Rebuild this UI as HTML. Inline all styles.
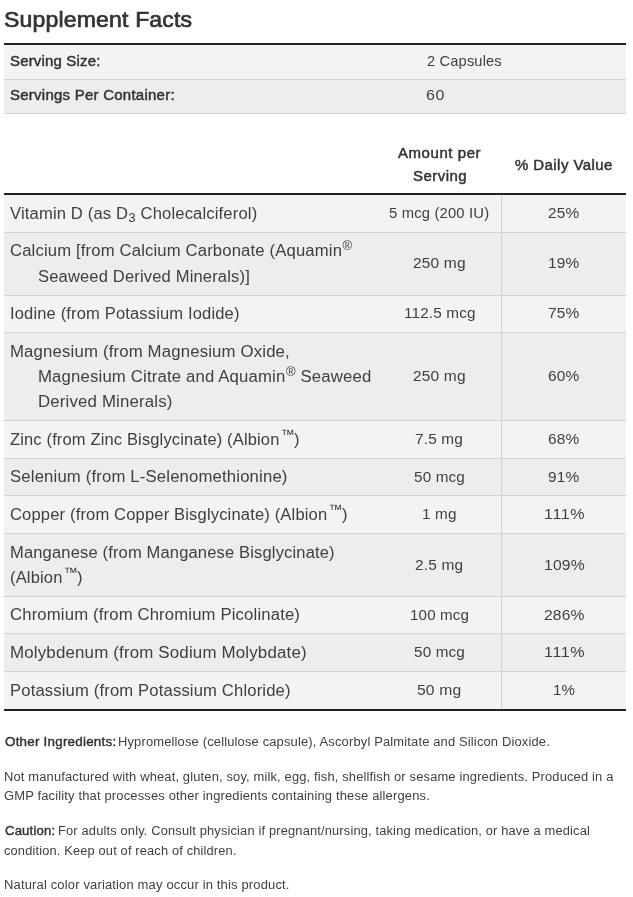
<!DOCTYPE html>
<html><head><meta charset="utf-8"><title>Supplement Facts</title><style>
html,body{margin:0;padding:0;background:#fff;}
body{width:633px;height:897px;position:relative;overflow:hidden;font-family:"Liberation Sans", sans-serif;color:#404040;}
h2,p{margin:0;font-weight:400;}
.b{position:absolute;}
.tx{position:absolute;left:0;top:0;width:633px;height:897px;will-change:transform;}
.t{position:absolute;white-space:nowrap;line-height:20px;height:20px;transform-origin:0 0;}
.h{color:#333;-webkit-text-stroke:0.7px #333;}
.sb6{color:#333;-webkit-text-stroke:0.45px #333;}
.sb5{color:#333;-webkit-text-stroke:0.4px #333;}
.sb{font-size:80%;position:relative;top:3px;line-height:0;}
.sp{font-size:78%;position:relative;top:-5.3px;line-height:0;margin-left:0.5px;}
.sp.tm{font-size:84%;top:-5.5px;margin-left:1.5px;margin-right:-1px;}
</style></head><body>
<div class="b" style="left:4px;top:43px;width:622px;height:2px;background:#222"></div>
<div class="b" style="left:4px;top:45px;width:622px;height:34px;background:#f3f3f3"></div>
<div class="b" style="left:4px;top:79px;width:622px;height:1px;background:#d3d3d3"></div>
<div class="b" style="left:4px;top:80px;width:622px;height:33px;background:#ededed"></div>
<div class="b" style="left:4px;top:113px;width:622px;height:1px;background:#d3d3d3"></div>
<div class="b" style="left:4px;top:193px;width:622px;height:2px;background:#222"></div>
<div class="b" style="left:4px;top:195px;width:622px;height:37px;background:#f3f3f3"></div>
<div class="b" style="left:4px;top:232px;width:622px;height:1px;background:#d3d3d3"></div>
<div class="b" style="left:4px;top:233px;width:622px;height:62px;background:#ededed"></div>
<div class="b" style="left:4px;top:295px;width:622px;height:1px;background:#d3d3d3"></div>
<div class="b" style="left:4px;top:296px;width:622px;height:36px;background:#f3f3f3"></div>
<div class="b" style="left:4px;top:332px;width:622px;height:1px;background:#d3d3d3"></div>
<div class="b" style="left:4px;top:333px;width:622px;height:87px;background:#ededed"></div>
<div class="b" style="left:4px;top:420px;width:622px;height:1px;background:#d3d3d3"></div>
<div class="b" style="left:4px;top:421px;width:622px;height:37px;background:#f3f3f3"></div>
<div class="b" style="left:4px;top:458px;width:622px;height:1px;background:#d3d3d3"></div>
<div class="b" style="left:4px;top:459px;width:622px;height:36px;background:#ededed"></div>
<div class="b" style="left:4px;top:495px;width:622px;height:1px;background:#d3d3d3"></div>
<div class="b" style="left:4px;top:496px;width:622px;height:37px;background:#f3f3f3"></div>
<div class="b" style="left:4px;top:533px;width:622px;height:1px;background:#d3d3d3"></div>
<div class="b" style="left:4px;top:534px;width:622px;height:62px;background:#ededed"></div>
<div class="b" style="left:4px;top:596px;width:622px;height:1px;background:#d3d3d3"></div>
<div class="b" style="left:4px;top:597px;width:622px;height:36px;background:#f3f3f3"></div>
<div class="b" style="left:4px;top:633px;width:622px;height:1px;background:#d3d3d3"></div>
<div class="b" style="left:4px;top:634px;width:622px;height:37px;background:#ededed"></div>
<div class="b" style="left:4px;top:671px;width:622px;height:1px;background:#d3d3d3"></div>
<div class="b" style="left:4px;top:672px;width:622px;height:37px;background:#f3f3f3"></div>
<div class="b" style="left:4px;top:709px;width:622px;height:2px;background:#222"></div>
<div class="b" style="left:501px;top:195px;width:1px;height:514px;background:#d3d3d3"></div>
<div class="tx">
<h2 class="t h" style="left:4.22px;top:9.50px;font-size:22.4px;letter-spacing:0.150px;transform:scaleX(1.0296);">Supplement Facts</h2>
<div class="t sb6" style="left:10.30px;top:51.00px;font-size:14.0px;letter-spacing:0.159px;transform:scaleX(1.0700);">Serving Size:</div>
<div class="t sb6" style="left:10.08px;top:85.00px;font-size:14.0px;letter-spacing:0.236px;transform:scaleX(1.0700);">Servings Per Container:</div>
<div class="t" style="left:426.52px;top:50.50px;font-size:15.0px;letter-spacing:0.150px;transform:scaleX(0.9779);">2 Capsules</div>
<div class="t" style="left:426.20px;top:84.50px;font-size:15.0px;letter-spacing:0.447px;transform:scaleX(1.0700);">60</div>
<div class="t sb6" style="left:398.38px;top:143.00px;font-size:14.0px;letter-spacing:0.528px;transform:scaleX(1.0700);">Amount per</div>
<div class="t sb6" style="left:412.72px;top:166.00px;font-size:14.0px;letter-spacing:0.447px;transform:scaleX(1.0700);">Serving</div>
<div class="t sb6" style="left:515.40px;top:155.00px;font-size:14.0px;letter-spacing:0.404px;transform:scaleX(1.0700);">% Daily Value</div>
<div class="t" style="left:10.33px;top:203.50px;font-size:16.0px;letter-spacing:0.150px;transform:scaleX(1.0369);">Vitamin D (as D<span class="sb">3</span> Cholecalciferol)</div>
<div class="t" style="left:9.79px;top:240.50px;font-size:16.0px;letter-spacing:0.150px;transform:scaleX(1.0409);">Calcium [from Calcium Carbonate (Aquamin<span class="sp">&reg;</span></div>
<div class="t" style="left:38.23px;top:266.50px;font-size:16.0px;letter-spacing:0.150px;transform:scaleX(1.0342);">Seaweed Derived Minerals)]</div>
<div class="t" style="left:10.00px;top:303.50px;font-size:16.0px;letter-spacing:0.150px;transform:scaleX(1.0326);">Iodine (from Potassium Iodide)</div>
<div class="t" style="left:9.80px;top:341.50px;font-size:16.0px;letter-spacing:0.150px;transform:scaleX(1.0479);">Magnesium (from Magnesium Oxide,</div>
<div class="t" style="left:37.84px;top:366.50px;font-size:16.0px;letter-spacing:0.150px;transform:scaleX(1.0463);">Magnesium Citrate and Aquamin<span class="sp">&reg;</span> Seaweed</div>
<div class="t" style="left:37.84px;top:391.50px;font-size:16.0px;letter-spacing:0.150px;transform:scaleX(1.0517);">Derived Minerals)</div>
<div class="t" style="left:10.02px;top:429.50px;font-size:16.0px;letter-spacing:0.150px;transform:scaleX(1.0300);">Zinc (from Zinc Bisglycinate) (Albion<span class="sp tm">&trade;</span>)</div>
<div class="t" style="left:9.92px;top:466.50px;font-size:16.0px;letter-spacing:0.150px;transform:scaleX(1.0448);">Selenium (from L-Selenomethionine)</div>
<div class="t" style="left:9.79px;top:504.50px;font-size:16.0px;letter-spacing:0.150px;transform:scaleX(1.0345);">Copper (from Copper Bisglycinate) (Albion<span class="sp tm">&trade;</span>)</div>
<div class="t" style="left:9.80px;top:542.50px;font-size:16.0px;letter-spacing:0.150px;transform:scaleX(1.0327);">Manganese (from Manganese Bisglycinate)</div>
<div class="t" style="left:9.75px;top:567.50px;font-size:16.0px;letter-spacing:0.150px;transform:scaleX(1.0319);">(Albion<span class="sp tm">&trade;</span>)</div>
<div class="t" style="left:9.79px;top:604.50px;font-size:16.0px;letter-spacing:0.150px;transform:scaleX(1.0427);">Chromium (from Chromium Picolinate)</div>
<div class="t" style="left:10.10px;top:642.50px;font-size:16.0px;letter-spacing:0.150px;transform:scaleX(1.0570);">Molybdenum (from Sodium Molybdate)</div>
<div class="t" style="left:10.10px;top:680.50px;font-size:16.0px;letter-spacing:0.150px;transform:scaleX(1.0388);">Potassium (from Potassium Chloride)</div>
<div class="t" style="left:389.18px;top:202.50px;font-size:15.0px;letter-spacing:0.150px;transform:scaleX(0.9898);">5 mcg (200 IU)</div>
<div class="t" style="left:548.19px;top:202.50px;font-size:15.0px;letter-spacing:0.150px;transform:scaleX(1.0259);">25%</div>
<div class="t" style="left:413.20px;top:252.50px;font-size:15.0px;letter-spacing:0.150px;transform:scaleX(1.0356);">250 mg</div>
<div class="t" style="left:548.00px;top:252.50px;font-size:15.0px;letter-spacing:0.150px;transform:scaleX(1.0276);">19%</div>
<div class="t" style="left:403.72px;top:302.50px;font-size:15.0px;letter-spacing:0.150px;transform:scaleX(1.0203);">112.5 mcg</div>
<div class="t" style="left:548.47px;top:302.50px;font-size:15.0px;letter-spacing:0.150px;transform:scaleX(1.0299);">75%</div>
<div class="t" style="left:413.20px;top:365.50px;font-size:15.0px;letter-spacing:0.150px;transform:scaleX(1.0356);">250 mg</div>
<div class="t" style="left:547.86px;top:365.50px;font-size:15.0px;letter-spacing:0.150px;transform:scaleX(1.0287);">60%</div>
<div class="t" style="left:415.48px;top:428.50px;font-size:15.0px;letter-spacing:0.150px;transform:scaleX(1.0250);">7.5 mg</div>
<div class="t" style="left:547.86px;top:428.50px;font-size:15.0px;letter-spacing:0.150px;transform:scaleX(1.0287);">68%</div>
<div class="t" style="left:413.92px;top:466.50px;font-size:15.0px;letter-spacing:0.150px;transform:scaleX(1.0162);">50 mcg</div>
<div class="t" style="left:547.86px;top:466.50px;font-size:15.0px;letter-spacing:0.150px;transform:scaleX(1.0285);">91%</div>
<div class="t" style="left:422.48px;top:503.50px;font-size:15.0px;letter-spacing:0.150px;transform:scaleX(1.0182);">1 mg</div>
<div class="t" style="left:543.52px;top:503.50px;font-size:15.0px;letter-spacing:0.607px;transform:scaleX(1.0700);">111%</div>
<div class="t" style="left:415.31px;top:554.50px;font-size:15.0px;letter-spacing:0.150px;transform:scaleX(1.0298);">2.5 mg</div>
<div class="t" style="left:543.52px;top:554.50px;font-size:15.0px;letter-spacing:0.150px;transform:scaleX(1.0472);">109%</div>
<div class="t" style="left:409.52px;top:604.50px;font-size:15.0px;letter-spacing:0.150px;transform:scaleX(1.0099);">100 mcg</div>
<div class="t" style="left:543.90px;top:604.50px;font-size:15.0px;letter-spacing:0.150px;transform:scaleX(1.0424);">286%</div>
<div class="t" style="left:413.92px;top:641.50px;font-size:15.0px;letter-spacing:0.150px;transform:scaleX(1.0162);">50 mcg</div>
<div class="t" style="left:543.52px;top:641.50px;font-size:15.0px;letter-spacing:0.607px;transform:scaleX(1.0700);">111%</div>
<div class="t" style="left:417.17px;top:679.50px;font-size:15.0px;letter-spacing:0.150px;transform:scaleX(1.0440);">50 mg</div>
<div class="t" style="left:552.94px;top:679.50px;font-size:15.0px;letter-spacing:0.150px;transform:scaleX(1.0099);">1%</div>
<p class="t sb5" style="left:5.00px;top:732.00px;font-size:12.5px;letter-spacing:0.225px;transform:scaleX(1.0700);">Other Ingredients:</p>
<p class="t" style="left:118.08px;top:732.00px;font-size:12.5px;letter-spacing:0.150px;transform:scaleX(1.0349);">Hypromellose (cellulose capsule), Ascorbyl Palmitate and Silicon Dioxide.</p>
<p class="t" style="left:4.00px;top:767.00px;font-size:12.5px;letter-spacing:0.150px;transform:scaleX(1.0328);">Not manufactured with wheat, gluten, soy, milk, egg, fish, shellfish or sesame ingredients. Produced in a</p>
<p class="t" style="left:4.26px;top:786.00px;font-size:12.5px;letter-spacing:0.150px;transform:scaleX(1.0364);">GMP facility that processes other ingredients containing these allergens.</p>
<p class="t sb5" style="left:5.00px;top:821.00px;font-size:12.5px;letter-spacing:0.150px;transform:scaleX(1.0519);">Caution:</p>
<p class="t" style="left:58.30px;top:821.00px;font-size:12.5px;letter-spacing:0.150px;transform:scaleX(1.0297);">For adults only. Consult physician if pregnant/nursing, taking medication, or have a medical</p>
<p class="t" style="left:4.19px;top:841.00px;font-size:12.5px;letter-spacing:0.150px;transform:scaleX(1.0273);">condition. Keep out of reach of children.</p>
<p class="t" style="left:4.00px;top:875.00px;font-size:12.5px;letter-spacing:0.150px;transform:scaleX(1.0386);">Natural color variation may occur in this product.</p>
</div>
</body></html>
